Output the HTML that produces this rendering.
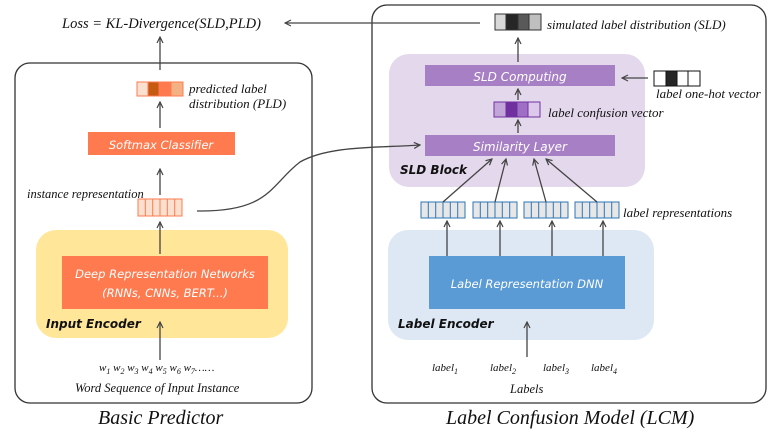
<!DOCTYPE html>
<html><head><meta charset="utf-8"><style>
html,body{margin:0;padding:0;background:#fff}
svg{display:block}
.s{font-family:"Liberation Serif",serif;font-style:italic;fill:#111}
.w{font-family:"DejaVu Sans","Liberation Sans",sans-serif;font-style:italic;fill:#fff}
.b{font-family:"DejaVu Sans","Liberation Sans",sans-serif;font-style:italic;font-weight:bold;fill:#111}
</style></head><body>
<svg width="775" height="436" viewBox="0 0 775 436" xmlns="http://www.w3.org/2000/svg">
<defs><marker id="a" markerWidth="8" markerHeight="8" refX="7" refY="4" orient="auto" markerUnits="userSpaceOnUse"><path d="M1,1 L7,4 L1,7" fill="none" stroke="#444" stroke-width="1.2"/></marker></defs>
<rect x="15" y="63" width="297" height="340" rx="15" fill="none" stroke="#333" stroke-width="1.3"/>
<rect x="372" y="5" width="394" height="398" rx="15" fill="none" stroke="#333" stroke-width="1.3"/>
<text class="s" x="62" y="28" font-size="14.5">Loss = KL-Divergence(SLD,PLD)</text>
<g stroke="#ff7a4f" stroke-width="1">
<rect x="137" y="82" width="11" height="14" fill="#fbe0d0"/><rect x="148" y="82" width="11" height="14" fill="#c55a11"/><rect x="159" y="82" width="12" height="14" fill="#ff7a4f"/><rect x="171" y="82" width="12" height="14" fill="#f4b183"/>
</g>
<text class="s" x="189" y="93" font-size="13">predicted label</text>
<text class="s" x="189" y="108" font-size="13">distribution (PLD)</text>
<rect x="88" y="132" width="147" height="23" fill="#ff7a4f"/>
<text class="w" x="161" y="149" font-size="11.5" text-anchor="middle">Softmax Classifier</text>
<text class="s" x="27" y="198" font-size="12.5">instance representation</text>
<g stroke="#ff7a4f" stroke-width="1" fill="#fbe0d0">
<rect x="138" y="199" width="44" height="17"/>
<line x1="145.3" y1="199" x2="145.3" y2="216"/><line x1="152.7" y1="199" x2="152.7" y2="216"/><line x1="160" y1="199" x2="160" y2="216"/><line x1="167.3" y1="199" x2="167.3" y2="216"/><line x1="174.7" y1="199" x2="174.7" y2="216"/>
</g>
<rect x="36" y="230" width="252" height="108" rx="20" fill="#ffe699"/>
<rect x="62" y="256" width="206" height="53" fill="#ff7a4f"/>
<text class="w" x="165" y="278" font-size="11.5" text-anchor="middle">Deep Representation Networks</text>
<text class="w" x="165" y="297" font-size="11.5" text-anchor="middle">(RNNs, CNNs, BERT...)</text>
<text class="b" x="46" y="328" font-size="12">Input Encoder</text>
<text class="s" x="99" y="371" font-size="11">w<tspan font-size="8" dy="3">1</tspan><tspan dy="-3"> w</tspan><tspan font-size="8" dy="3">2</tspan><tspan dy="-3"> w</tspan><tspan font-size="8" dy="3">3</tspan><tspan dy="-3"> w</tspan><tspan font-size="8" dy="3">4</tspan><tspan dy="-3"> w</tspan><tspan font-size="8" dy="3">5</tspan><tspan dy="-3"> w</tspan><tspan font-size="8" dy="3">6</tspan><tspan dy="-3"> w</tspan><tspan font-size="8" dy="3">7</tspan><tspan dy="-3">……</tspan></text>
<text class="s" x="75" y="392" font-size="12.5">Word Sequence of Input Instance</text>
<text class="s" x="98" y="424" font-size="20">Basic Predictor</text>
<g stroke="#333" stroke-width="1">
<rect x="495" y="14" width="11" height="16" fill="#d9d9d9"/><rect x="506" y="14" width="12" height="16" fill="#262626"/><rect x="518" y="14" width="11" height="16" fill="#595959"/><rect x="529" y="14" width="12" height="16" fill="#bfbfbf"/>
</g>
<text class="s" x="547" y="29" font-size="13">simulated label distribution (SLD)</text>
<rect x="389" y="54" width="256" height="133" rx="20" fill="#e4d8ec"/>
<rect x="425" y="65" width="190" height="21" fill="#a77fc4"/>
<text class="w" x="520" y="81" font-size="12" text-anchor="middle">SLD Computing</text>
<g stroke="#7030a0" stroke-width="1">
<rect x="494" y="102" width="12" height="15" fill="#c3a6d9"/><rect x="506" y="102" width="11" height="15" fill="#7030a0"/><rect x="517" y="102" width="11" height="15" fill="#9f6fc6"/><rect x="528" y="102" width="12" height="15" fill="#dcc8ea"/>
</g>
<text class="s" x="548" y="117" font-size="13">label confusion vector</text>
<rect x="425" y="135" width="190" height="21" fill="#a77fc4"/>
<text class="w" x="520" y="151" font-size="12" text-anchor="middle">Similarity Layer</text>
<text class="b" x="400" y="174" font-size="12">SLD Block</text>
<g stroke="#111" stroke-width="1">
<rect x="654" y="71" width="12" height="15" fill="#fff"/><rect x="666" y="71" width="11" height="15" fill="#262626"/><rect x="677" y="71" width="11" height="15" fill="#fff"/><rect x="688" y="71" width="12" height="15" fill="#fff"/>
</g>
<text class="s" x="656" y="98" font-size="13">label one-hot vector</text>
<g stroke="#2e75b6" stroke-width="1" fill="#e7e7e7">
<rect x="421" y="202" width="44" height="16"/><line x1="428.3" y1="202" x2="428.3" y2="218"/><line x1="435.7" y1="202" x2="435.7" y2="218"/><line x1="443" y1="202" x2="443" y2="218"/><line x1="450.3" y1="202" x2="450.3" y2="218"/><line x1="457.7" y1="202" x2="457.7" y2="218"/>
<rect x="473" y="202" width="44" height="16"/><line x1="480.3" y1="202" x2="480.3" y2="218"/><line x1="487.7" y1="202" x2="487.7" y2="218"/><line x1="495" y1="202" x2="495" y2="218"/><line x1="502.3" y1="202" x2="502.3" y2="218"/><line x1="509.7" y1="202" x2="509.7" y2="218"/>
<rect x="524" y="202" width="44" height="16"/><line x1="531.3" y1="202" x2="531.3" y2="218"/><line x1="538.7" y1="202" x2="538.7" y2="218"/><line x1="546" y1="202" x2="546" y2="218"/><line x1="553.3" y1="202" x2="553.3" y2="218"/><line x1="560.7" y1="202" x2="560.7" y2="218"/>
<rect x="575" y="202" width="44" height="16"/><line x1="582.3" y1="202" x2="582.3" y2="218"/><line x1="589.7" y1="202" x2="589.7" y2="218"/><line x1="597" y1="202" x2="597" y2="218"/><line x1="604.3" y1="202" x2="604.3" y2="218"/><line x1="611.7" y1="202" x2="611.7" y2="218"/>
</g>
<text class="s" x="623" y="217" font-size="13">label representations</text>
<rect x="388" y="230" width="266" height="110" rx="20" fill="#dde8f4"/>
<rect x="429" y="256" width="196" height="53" fill="#5b9bd5"/>
<text class="w" x="527" y="288" font-size="11.5" text-anchor="middle">Label Representation DNN</text>
<text class="b" x="398" y="328" font-size="12">Label Encoder</text>
<g class="s" font-size="11">
<text x="432" y="371">label<tspan font-size="8" dy="3">1</tspan></text>
<text x="490" y="371">label<tspan font-size="8" dy="3">2</tspan></text>
<text x="543" y="371">label<tspan font-size="8" dy="3">3</tspan></text>
<text x="591" y="371">label<tspan font-size="8" dy="3">4</tspan></text>
</g>
<text class="s" x="510" y="393" font-size="12.5">Labels</text>
<text class="s" x="446" y="424" font-size="20">Label Confusion Model (LCM)</text>
<g stroke="#444" stroke-width="1.3" fill="none" marker-end="url(#a)">
<line x1="480" y1="23" x2="285" y2="23"/>
<line x1="160" y1="70" x2="160" y2="37"/>
<line x1="160" y1="128" x2="160" y2="102"/>
<line x1="160" y1="195" x2="160" y2="169"/>
<line x1="160" y1="254" x2="160" y2="222"/>
<line x1="160" y1="360" x2="160" y2="322"/>
<path d="M197,211 C270,212 270,185 300,162 C330,145 380,148 420,145"/>
<line x1="518" y1="62" x2="518" y2="38"/>
<line x1="648" y1="78" x2="622" y2="78"/>
<line x1="518" y1="100" x2="518" y2="89"/>
<line x1="518" y1="133" x2="518" y2="120"/>
<line x1="443" y1="202" x2="492" y2="159"/>
<line x1="495" y1="202" x2="506" y2="159"/>
<line x1="546" y1="202" x2="534" y2="159"/>
<line x1="597" y1="202" x2="546" y2="159"/>
<line x1="447" y1="256" x2="447" y2="221"/><line x1="500" y1="256" x2="500" y2="221"/><line x1="552" y1="256" x2="552" y2="221"/><line x1="603" y1="256" x2="603" y2="221"/>
<line x1="527" y1="357" x2="527" y2="322"/>
</g>
</svg>
</body></html>
